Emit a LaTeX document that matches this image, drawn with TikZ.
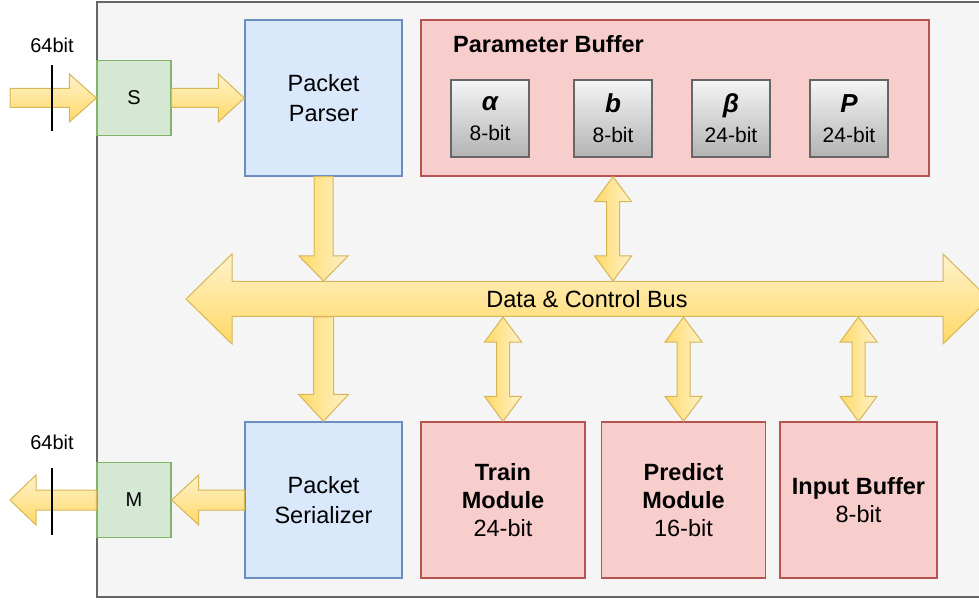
\documentclass[tikz,border=0pt]{standalone}
\usepackage{fontspec}
\setmainfont{Liberation Sans}
\usetikzlibrary{calc}

\definecolor{chipfill}{HTML}{F5F5F5}
\definecolor{chipline}{HTML}{666666}
\definecolor{gfill}{HTML}{D5E8D4}
\definecolor{gline}{HTML}{82B366}
\definecolor{bfill}{HTML}{DAE8FC}
\definecolor{bline}{HTML}{6C8EBF}
\definecolor{rfill}{HTML}{F8CECC}
\definecolor{rline}{HTML}{B85450}
\definecolor{greytop}{HTML}{F5F5F5}
\definecolor{greybot}{HTML}{B3B3B3}
\definecolor{arrowlight}{HTML}{FFF2CC}
\definecolor{arrowdark}{HTML}{FFD966}
\definecolor{arrowline}{HTML}{D6B656}

% single block arrow: style, from, tip, shaft half-width, head half-width, head length
\newcommand\blockarrow[6]{%
  \coordinate (ba-a) at #2;
  \coordinate (ba-b) at #3;
  \coordinate (ba-h) at ($(ba-b)!#6pt!(ba-a)$);
  \path[#1] ($(ba-a)!#4pt!90:(ba-b)$) -- ($(ba-h)!#4pt!90:(ba-b)$)
    -- ($(ba-h)!#5pt!90:(ba-b)$) -- (ba-b) -- ($(ba-h)!#5pt!-90:(ba-b)$)
    -- ($(ba-h)!#4pt!-90:(ba-b)$) -- ($(ba-a)!#4pt!-90:(ba-b)$) -- cycle;}

% double-headed block arrow: style, end A, end B, shaft half-width, head half-width, head length
\newcommand\dblarrow[6]{%
  \coordinate (da-a) at #2;
  \coordinate (da-b) at #3;
  \coordinate (da-1) at ($(da-a)!#6pt!(da-b)$);
  \coordinate (da-2) at ($(da-b)!#6pt!(da-a)$);
  \path[#1] (da-a) -- ($(da-1)!#5pt!90:(da-b)$) -- ($(da-1)!#4pt!90:(da-b)$)
    -- ($(da-2)!#4pt!90:(da-b)$) -- ($(da-2)!#5pt!90:(da-b)$) -- (da-b)
    -- ($(da-2)!#5pt!-90:(da-b)$) -- ($(da-2)!#4pt!-90:(da-b)$)
    -- ($(da-1)!#4pt!-90:(da-b)$) -- ($(da-1)!#5pt!-90:(da-b)$) -- cycle;}

\tikzset{
  box/.style={draw, line width=1.3pt, inner sep=0pt, align=center},
  chipbox/.style={box, fill=chipfill, draw=chipline, line width=1.5pt,
    minimum width=893pt, minimum height=595pt},
  portbox/.style={box, fill=gfill, draw=gline, minimum width=74pt, minimum height=75pt,
    font=\fontsize{20}{24}\selectfont},
  pktbox/.style={box, fill=bfill, draw=bline, minimum width=157pt, minimum height=156pt,
    font=\fontsize{23.5}{29.5}\selectfont},
  modbox/.style={box, fill=rfill, draw=rline, minimum height=156pt,
    font=\fontsize{23.5}{28}\selectfont},
  regbox/.style={box, top color=greytop, bottom color=greybot, draw=chipline,
    minimum width=78pt, minimum height=77pt, font=\fontsize{21}{30}\selectfont},
  hbar/.style={draw=arrowline, line width=1pt, top color=arrowlight, bottom color=arrowdark},
  vbar/.style={draw=arrowline, line width=1pt, left color=arrowdark, right color=arrowlight},
  tick/.style={draw=black, line width=1.2pt},
  lbl/.style={inner sep=0pt, font=\fontsize{20}{24}\selectfont},
  sym/.style={font=\fontsize{26}{26}\selectfont\bfseries\itshape},
}

\begin{document}
\begin{tikzpicture}[x=1pt, y=-1pt]
\useasboundingbox (0,0) rectangle (979,601);
\clip (0,0) rectangle (979,601);

% enclosing chip
\node[chipbox] (chip) at (543.5,299.5) {};

% interface ports
\node[portbox] (S) at (134,98) {S};
\node[portbox] (M) at (134,500) {M};

% packet blocks
\node[pktbox] (parser) at (323.5,98) {Packet\\Parser};
\node[pktbox] (serial) at (323.5,500) {Packet\\Serializer};

% parameter buffer and its registers
\node[modbox, minimum width=508pt] (pbuf) at (675,98) {};
\node[anchor=west, inner sep=0pt, font=\fontsize{23.5}{26}\selectfont\bfseries] (pbtitle) at (453,44) {Parameter Buffer};
\node[regbox] (ralpha) at (490,118.5) {{\fontsize{26}{26}\selectfont\bfseries\itshape α}\\8-bit};
\node[regbox] (rb) at (613,118.5) {{\fontsize{26}{26}\selectfont\bfseries\itshape b}\\8-bit};
\node[regbox] (rbeta) at (731,118.5) {{\fontsize{26}{26}\selectfont\bfseries\itshape β}\\24-bit};
\node[regbox] (rp) at (849,118.5) {{\fontsize{26}{26}\selectfont\bfseries\itshape P}\\24-bit};

% processing modules
\node[modbox, minimum width=164pt] (train) at (503,500) {\textbf{Train}\\\textbf{Module}\\24-bit};
\node[modbox, minimum width=164pt] (predict) at (683.5,500) {\textbf{Predict}\\\textbf{Module}\\16-bit};
\node[modbox, minimum width=157pt] (inbuf) at (858.5,500) {\textbf{Input Buffer}\\8-bit};

% bus geometry
\coordinate (busL) at (186,299);
\coordinate (busR) at (989,299);
\coordinate (bustop) at (0,281);
\coordinate (busbot) at (0,317);

% external links
\coordinate (inA) at (10,98);
\coordinate (outA) at (10,500);
\blockarrow{hbar}{(inA)}{(S.west)}{9.5}{24}{27}
\blockarrow{hbar}{(S.east)}{(parser.west)}{9.5}{24}{26}
\blockarrow{hbar}{(serial.west)}{(M.east)}{10}{25}{27}
\blockarrow{hbar}{(M.west)}{(outA)}{10}{25}{26}

\coordinate (tin1) at (52,65);
\coordinate (tin2) at (52,131);
\coordinate (tout1) at (52,468);
\coordinate (tout2) at (52,535);
\draw[tick] (tin1) -- (tin2);
\draw[tick] (tout1) -- (tout2);
\node[lbl] (win) at (52,45) {64bit};
\node[lbl] (wout) at (52,442) {64bit};

% data & control bus
\dblarrow{hbar}{(busL)}{(busR)}{17.5}{45}{46}
\node[inner sep=0pt, font=\fontsize{23.5}{26}\selectfont] (buslabel) at (587,299) {Data \& Control Bus};

% links onto the bus
\blockarrow{vbar}{(parser.south)}{(parser.south |- bustop)}{9.5}{24.5}{25}
\blockarrow{vbar}{(parser.south |- busbot)}{(serial.north)}{10}{25}{27}
\dblarrow{vbar}{(pbuf.south -| rb)}{(rb |- bustop)}{6.5}{18.5}{25}
\dblarrow{vbar}{(train |- busbot)}{(train.north)}{6.5}{18.5}{25}
\dblarrow{vbar}{(predict |- busbot)}{(predict.north)}{6.5}{18.5}{25}
\dblarrow{vbar}{(inbuf |- busbot)}{(inbuf.north)}{6.5}{18.5}{25}
\end{tikzpicture}
\end{document}
